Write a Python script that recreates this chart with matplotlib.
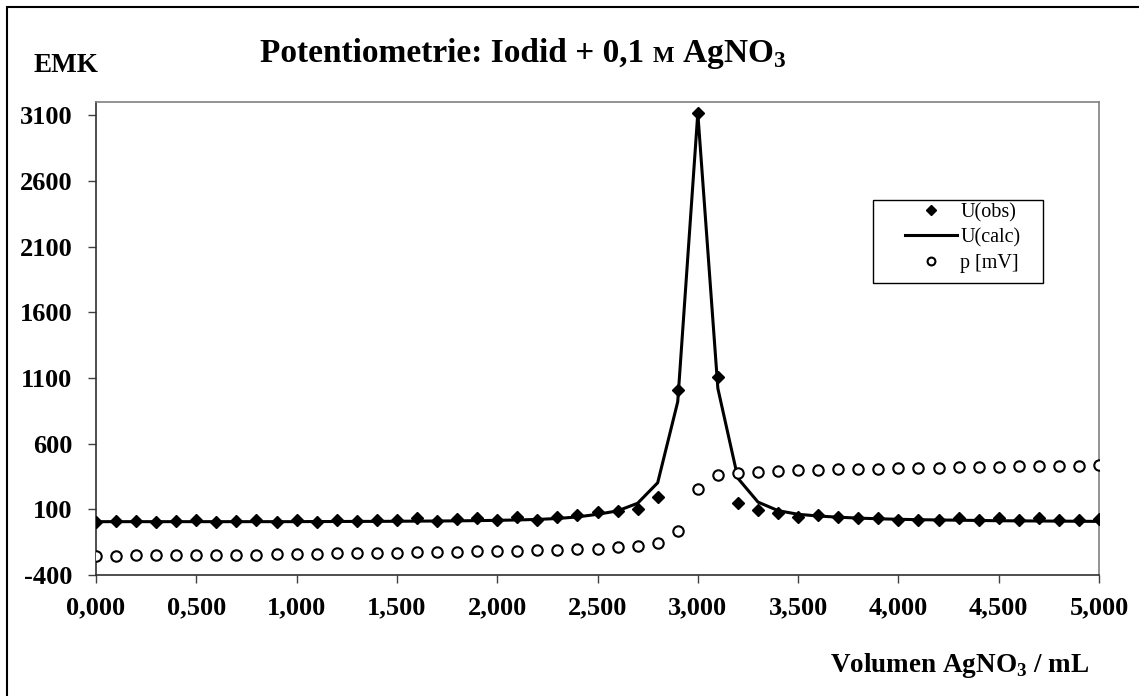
import matplotlib
matplotlib.use("Agg")
import matplotlib.pyplot as plt
from matplotlib.patches import Rectangle

# data
volume = [0.0, 0.1, 0.2, 0.3, 0.4, 0.5, 0.6, 0.7, 0.8, 0.9,
          1.0, 1.1, 1.2, 1.3, 1.4, 1.5, 1.6, 1.7, 1.8, 1.9,
          2.0, 2.1, 2.2, 2.3, 2.4, 2.5, 2.6, 2.7, 2.8, 2.9,
          3.0, 3.1, 3.2, 3.3, 3.4, 3.5, 3.6, 3.7, 3.8, 3.9,
          4.0, 4.1, 4.2, 4.3, 4.4, 4.5, 4.6, 4.7, 4.8, 4.9, 5.0]

u_obs = [6, 11, 11, 1, 11, 21, 1, 11, 21, 6,
         21, 6, 21, 11, 21, 21, 31, 11, 26, 31,
         21, 44, 18, 41, 55, 76, 85, 102, 196, 1005,
         3120, 1105, 146, 92, 74, 44, 57, 44, 32, 32,
         19, 19, 19, 32, 19, 32, 19, 32, 19, 19, 24]

u_calc = [6, 6, 6, 6, 6, 6, 6, 6, 6, 6,
          6, 7, 7, 8, 8, 9, 10, 11, 12, 14,
          16, 19, 23, 30, 42, 62, 88, 146, 302, 919,
          3116, 1020, 336, 155, 90, 62, 49, 40, 33, 28,
          24, 21, 19, 17, 15, 13, 12, 11, 10, 9, 8]

p_mv = [-253, -252, -251, -250, -249, -247, -246, -245, -244, -243,
        -241, -239, -236, -235, -232, -231, -228, -226, -223, -221,
        -219, -216, -213, -209, -205, -199, -189, -180, -160, -63,
        252, 361, 374, 384, 392, 396, 400, 404, 407, 410,
        413, 415, 418, 420, 423, 425, 427, 429, 431, 433, 435]

x_ticks = [0.0, 0.5, 1.0, 1.5, 2.0, 2.5, 3.0, 3.5, 4.0, 4.5, 5.0]
y_ticks = [-400, 100, 600, 1100, 1600, 2100, 2600, 3100]

plt.rcParams['font.family'] = ['Liberation Serif', 'DejaVu Serif']
plt.rcParams['mathtext.fontset'] = 'custom'
plt.rcParams['mathtext.rm'] = 'Liberation Serif:bold'
plt.rcParams['mathtext.bf'] = 'Liberation Serif:bold'

W, H = 1139, 696
fig = plt.figure(figsize=(W / 100, H / 100), dpi=100)
ax = fig.add_axes([96 / W, 1 - 575 / H, (1099 - 96) / W, (575 - 102) / H])

ax.plot(volume, u_calc, color='black', linewidth=2.2, label='U(calc)', zorder=3)
ax.plot(volume, u_obs, linestyle='none', marker='D', markersize=6.5,
        color='black', label='U(obs)', zorder=4)
ax.plot(volume, p_mv, linestyle='none', marker='o', markersize=7.5,
        markerfacecolor='white', markeredgecolor='black', markeredgewidth=1.5,
        label='p [mV]', zorder=4)

ax.set_xlim(0, 5)
ax.set_ylim(-400, 3200)
ax.set_xticks(x_ticks)
ax.set_xticklabels([f"{v:.3f}".replace('.', ',') for v in x_ticks])
ax.set_yticks(y_ticks)
ax.set_yticklabels([str(v) for v in y_ticks])
ax.tick_params(axis='both', direction='out', length=6, width=1, color='#404040',
               labelsize=19)
ax.tick_params(axis='y', pad=11)
ax.tick_params(axis='x', pad=9)
for lab in ax.get_xticklabels() + ax.get_yticklabels():
    lab.set_fontweight('bold')

ax.spines['left'].set_color('#303030')
ax.spines['bottom'].set_color('#303030')
ax.spines['top'].set_color('#808080')
ax.spines['right'].set_color('#808080')
for s in ax.spines.values():
    s.set_linewidth(1.2)

# legend in the order of the reference, frame drawn separately
h, l = ax.get_legend_handles_labels()
order = [1, 0, 2]
leg = ax.legend([h[i] for i in order], [l[i] for i in order],
                loc='upper left', bbox_to_anchor=(905 / W, 1 - 203 / H),
                bbox_transform=fig.transFigure, borderaxespad=0, borderpad=0,
                frameon=False, fontsize=14.5, markerscale=0.75,
                handlelength=2.6, handletextpad=0.15, labelspacing=0.3)
fig.add_artist(Rectangle((873 / W, 1 - 283 / H), 170 / W, 83 / H,
                         transform=fig.transFigure, fill=False,
                         edgecolor='black', linewidth=1.0))

# axis labels and title
fig.text(33 / W, 1 - 72 / H, 'EMK', fontsize=19.5, fontweight='bold',
         ha='left', va='baseline')
fig.text(1089 / W, 1 - 672 / H, r'Volumen AgNO$_\mathregular{3}$ / mL',
         fontsize=19.5, fontweight='bold', ha='right', va='baseline')

pieces = [("Potentiometrie: Iodid + 0,1 ", 24), ("M", 16.5), (r" AgNO$_\mathregular{3}$", 24)]
renderer = fig.canvas.get_renderer()
texts = []
for s, fs in pieces:
    t = fig.text(0, 1 - 62 / H, s, fontsize=fs, fontweight='bold',
                 ha='left', va='baseline')
    texts.append(t)
widths = [t.get_window_extent(renderer).width for t in texts]
x0 = 523 - sum(widths) / 2
for t, w in zip(texts, widths):
    t.set_x(x0 / W)
    x0 += w

# outer frame of the chart object
fig.add_artist(Rectangle((7 / W, -0.1), 2, 1.1 - 7 / H, transform=fig.transFigure,
                         fill=False, edgecolor='black', linewidth=1.5, clip_on=False))

fig.savefig('out.png', dpi=100)
